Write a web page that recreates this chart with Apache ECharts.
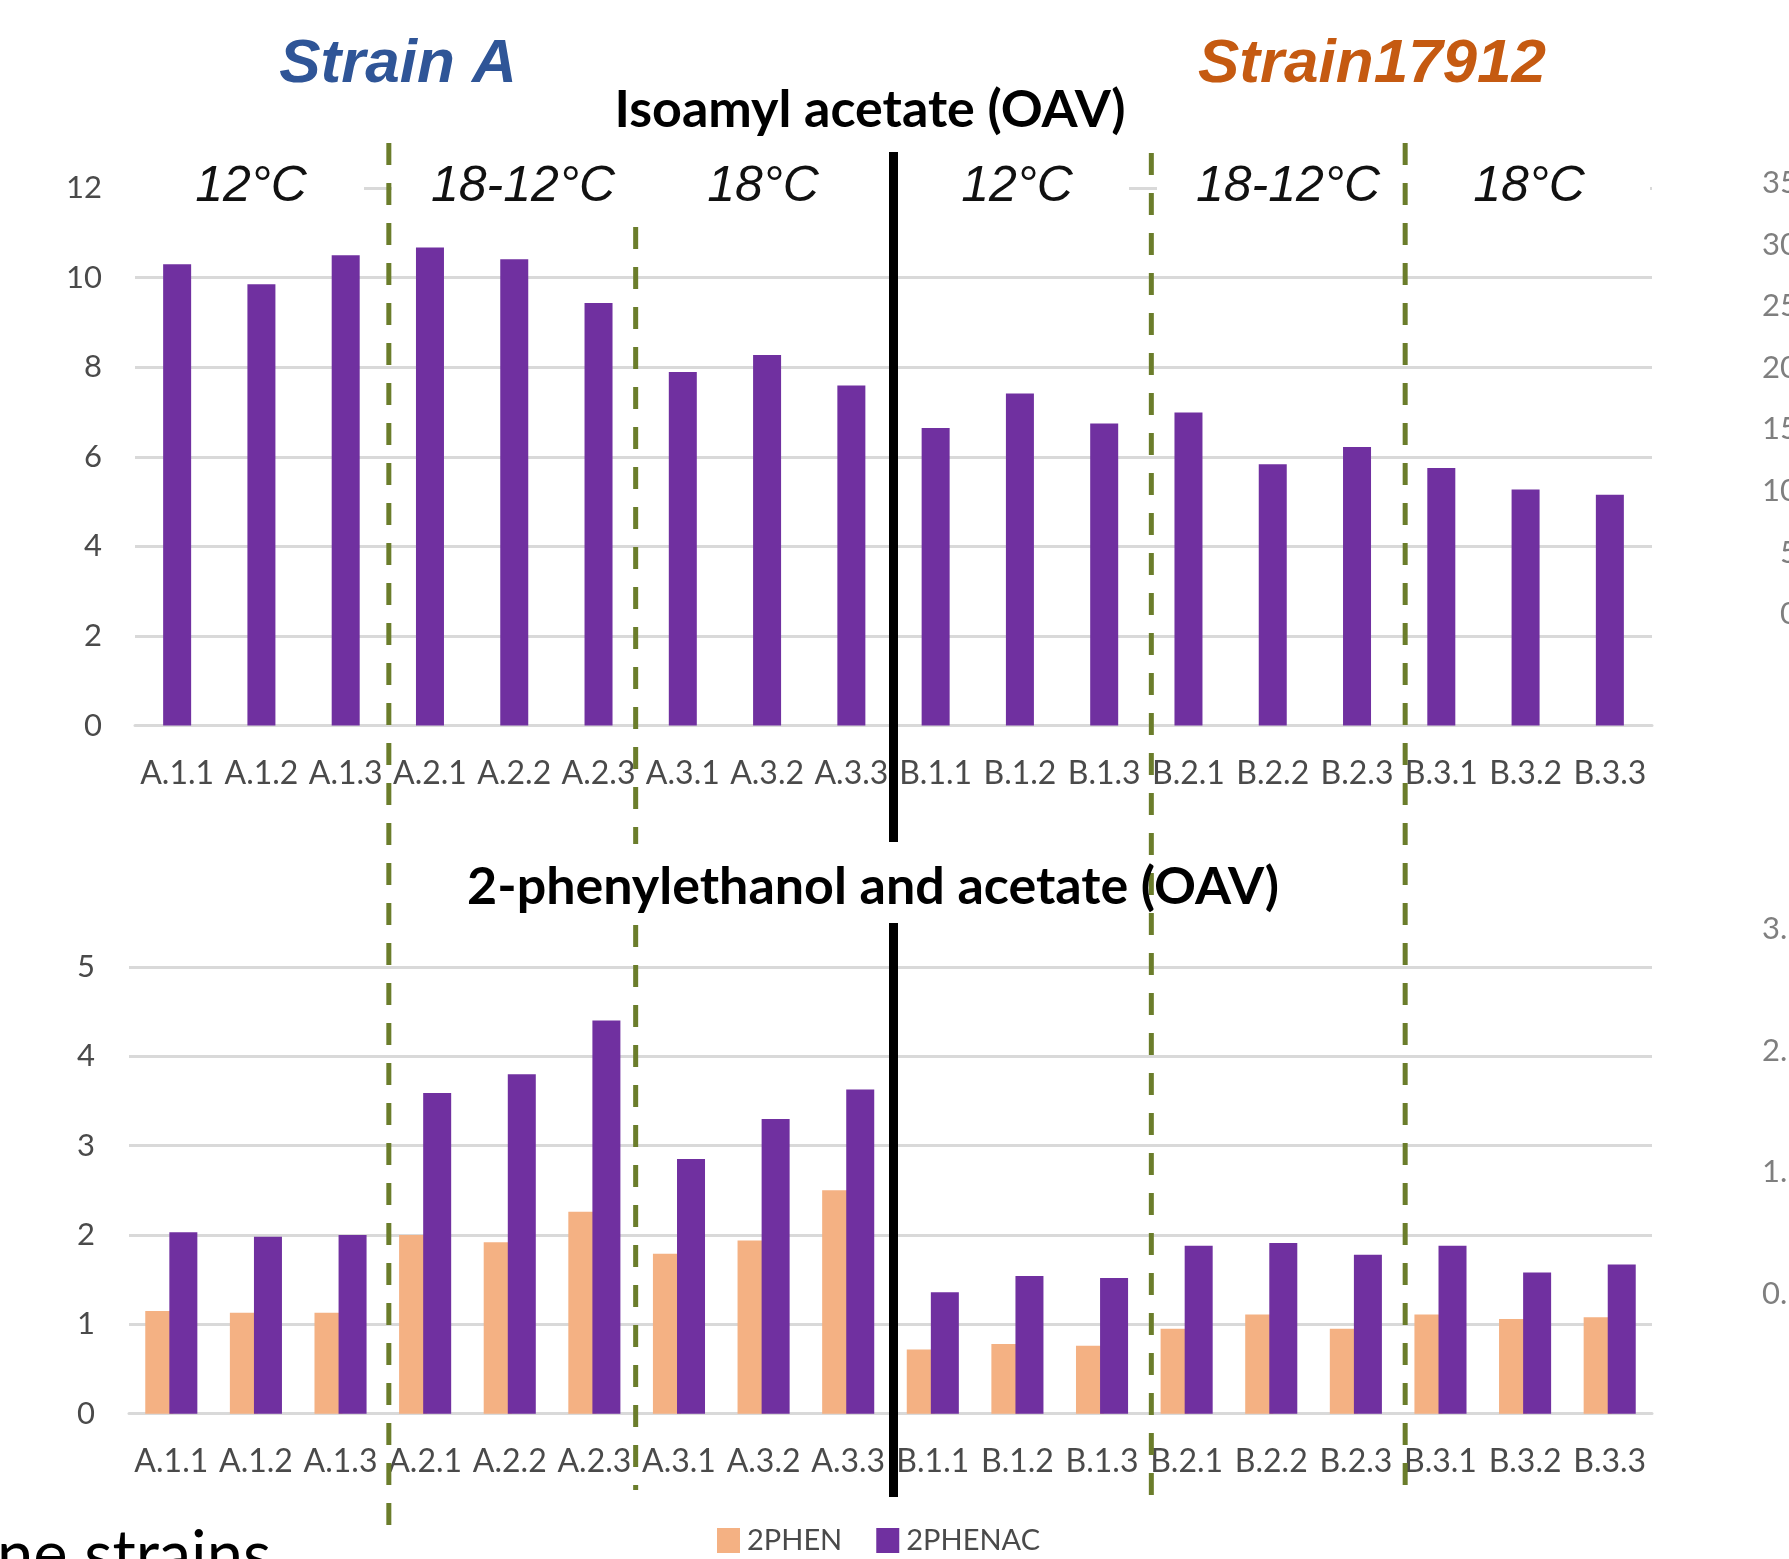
<!DOCTYPE html>
<html>
<head>
<meta charset="utf-8">
<script src="https://cdn.jsdelivr.net/npm/echarts@6/dist/echarts.min.js"></script>
<style>
html,body{margin:0;padding:0;background:#fff;}
#chart{width:1789px;height:1559px;}
</style>
</head>
<body>
<div id="chart"></div>
<script>
const categories = ['A.1.1','A.1.2','A.1.3','A.2.1','A.2.2','A.2.3','A.3.1','A.3.2','A.3.3',
                    'B.1.1','B.1.2','B.1.3','B.2.1','B.2.2','B.2.3','B.3.1','B.3.2','B.3.3'];
const isoamylAcetate = [10.30, 9.85, 10.50, 10.67, 10.41, 9.43, 7.89, 8.27, 7.59,
                        6.64, 7.41, 6.74, 6.99, 5.83, 6.22, 5.75, 5.27, 5.15];
const phen2 = [1.15, 1.13, 1.13, 2.00, 1.92, 2.26, 1.79, 1.94, 2.50,
               0.72, 0.78, 0.76, 0.95, 1.11, 0.95, 1.11, 1.06, 1.08];
const phenac2 = [2.03, 1.98, 2.00, 3.59, 3.80, 4.40, 2.85, 3.30, 3.63,
                 1.36, 1.54, 1.52, 1.88, 1.91, 1.78, 1.88, 1.58, 1.67];
const topAxis = {min: 0, max: 12, interval: 2};
const bottomAxis = {min: 0, max: 5, interval: 1};
const seriesNames = ['2PHEN', '2PHENAC'];
const titles = ['Isoamyl acetate (OAV)', '2-phenylethanol and acetate (OAV)'];
const strains = ['Strain A', 'Strain17912'];
const groupLabels = ['12°C', '18-12°C', '18°C', '12°C', '18-12°C', '18°C'];
const dashedBoundaries = [3, 6, 12, 15];
const strainBoundary = 9;
const rightTicksTop = ['35', '30', '25', '20', '15', '10', '5', '0'];
const rightTicksBottom = ['3.5', '2.5', '1.5', '0.5'];
const footText = 'ne strains';

const PURPLE = '#7030A0', ORANGE = '#F4B183', GRID = '#d9d9d9', LABEL = '#4a4a4a', OLIVE = '#6b7d2b';
const calibri = 'Lato, "Open Sans", sans-serif';
const arial = '"Liberation Sans", Arial, sans-serif';

const chart = echarts.init(document.getElementById('chart'), null, {renderer: 'canvas'});

const axisLabelX = {color: LABEL, fontFamily: calibri, fontSize: 32, margin: 32, interval: 0};
const axisLabelY = {color: LABEL, fontFamily: calibri, fontSize: 31};

const option = {
  animation: false,
  backgroundColor: '#ffffff',
  grid: [
    {left: 135, right: 137, top: 188, height: 537.5, containLabel: false},
    {left: 129, right: 137, top: 967, height: 446.7, containLabel: false}
  ],
  xAxis: [
    {type: 'category', gridIndex: 0, data: categories,
     axisLine: {show: true, lineStyle: {color: GRID, width: 3}}, axisTick: {show: false},
     axisLabel: axisLabelX},
    {type: 'category', gridIndex: 1, data: categories,
     axisLine: {show: true, lineStyle: {color: GRID, width: 3}}, axisTick: {show: false},
     axisLabel: axisLabelX}
  ],
  yAxis: [
    {type: 'value', gridIndex: 0, min: topAxis.min, max: topAxis.max, interval: topAxis.interval,
     axisLine: {show: false}, axisTick: {show: false},
     axisLabel: Object.assign({margin: 33}, axisLabelY),
     splitLine: {show: true, lineStyle: {color: GRID, width: 3}}},
    {type: 'value', gridIndex: 1, min: bottomAxis.min, max: bottomAxis.max, interval: bottomAxis.interval,
     axisLine: {show: false}, axisTick: {show: false},
     axisLabel: Object.assign({margin: 34}, axisLabelY),
     splitLine: {show: true, lineStyle: {color: GRID, width: 3}}}
  ],
  legend: {
    data: seriesNames,
    left: 712, top: 1521,
    icon: 'rect', itemWidth: 23, itemHeight: 25, itemGap: 34,
    textStyle: {color: LABEL, fontFamily: calibri, fontSize: 29, padding: [0, 0, 0, 2]}
  },
  series: [
    {name: 'Isoamyl acetate', type: 'bar', xAxisIndex: 0, yAxisIndex: 0, data: isoamylAcetate,
     barWidth: 28, itemStyle: {color: PURPLE}},
    {name: seriesNames[0], type: 'bar', xAxisIndex: 1, yAxisIndex: 1, data: phen2,
     barWidth: 28, barGap: '-14%', itemStyle: {color: ORANGE}},
    {name: seriesNames[1], type: 'bar', xAxisIndex: 1, yAxisIndex: 1, data: phenac2,
     barWidth: 28, barGap: '-14%', itemStyle: {color: PURPLE}, z: 3}
  ]
};
chart.setOption(option);

function boundaryX(i) {
  const a = chart.convertToPixel({xAxisIndex: 0}, categories[i - 1]);
  const b = chart.convertToPixel({xAxisIndex: 0}, categories[i]);
  return (a + b) / 2;
}
const y12 = chart.convertToPixel({yAxisIndex: 0}, topAxis.max);

const g = [];
// white masks over the top gridline behind the temperature labels
[[135, 364], [392, 1129], [1157, 1650]].forEach(function (r) {
  g.push({type: 'rect', z: 50, shape: {x: r[0], y: y12 - 4, width: r[1] - r[0], height: 8},
          style: {fill: '#ffffff'}});
});
// dashed olive separators (hand-drawn in the original, slightly off the category boundaries)
const dashNudge = [1, -5, 5, 6];
const dashSegs = [
  [[143, 1527]],
  [[227, 844], [925, 1490]],
  [[153, 1497]],
  [[143, 1487]]
];
dashedBoundaries.forEach(function (bi, k) {
  const x = boundaryX(bi) + dashNudge[k];
  dashSegs[k].forEach(function (s) {
    g.push({type: 'line', z: 60, shape: {x1: x, y1: s[0], x2: x, y2: s[1]},
            style: {stroke: OLIVE, lineWidth: 5, lineDash: [22, 18]}});
  });
});
// black strain separator
const bx = boundaryX(strainBoundary);
[[152, 842], [923, 1497]].forEach(function (s) {
  g.push({type: 'line', z: 70, shape: {x1: bx, y1: s[0], x2: bx, y2: s[1]},
          style: {stroke: '#000000', lineWidth: 9}});
});
// titles
g.push({type: 'text', z: 80, style: {text: titles[0], x: 870, y: 110, align: 'center', verticalAlign: 'middle',
        font: 'bold 52px ' + calibri, fill: '#000000'}});
g.push({type: 'text', z: 80, style: {text: titles[1], x: 873, y: 887, align: 'center', verticalAlign: 'middle',
        font: 'bold 52px ' + calibri, fill: '#000000'}});
// strain labels
g.push({type: 'text', z: 80, style: {text: strains[0], x: 398, y: 65, align: 'center', verticalAlign: 'middle',
        font: 'italic bold 62px ' + arial, fill: '#2f5597'}});
g.push({type: 'text', z: 80, style: {text: strains[1], x: 1372, y: 65, align: 'center', verticalAlign: 'middle',
        font: 'italic bold 62px ' + arial, fill: '#c55a11'}});
// temperature group labels
const groupX = [251, 523, 763, 1017, 1288, 1529];
groupLabels.forEach(function (t, i) {
  g.push({type: 'text', z: 80, style: {text: t, x: groupX[i], y: 187, align: 'center', verticalAlign: 'middle',
          font: 'italic 50px ' + arial, fill: '#111111'}});
});
// cut-off neighbouring axis labels on the right
rightTicksTop.forEach(function (t, i) {
  g.push({type: 'text', z: 80, style: {text: t, x: 1798, y: 183 + i * 61.6, align: 'right', verticalAlign: 'middle',
          font: '31px ' + calibri, fill: '#7f7f7f'}});
});
rightTicksBottom.forEach(function (t, i) {
  g.push({type: 'text', z: 80, style: {text: t, x: 1762, y: 929 + i * 121.7, align: 'left', verticalAlign: 'middle',
          font: '31px ' + calibri, fill: '#7f7f7f'}});
});
// cut-off caption text at bottom-left
g.push({type: 'text', z: 80, style: {text: footText, x: -3, y: 1556, align: 'left', verticalAlign: 'middle',
        font: '65px ' + calibri, fill: '#000000'}});

chart.setOption({graphic: {elements: g}});
</script>
</body>
</html>
